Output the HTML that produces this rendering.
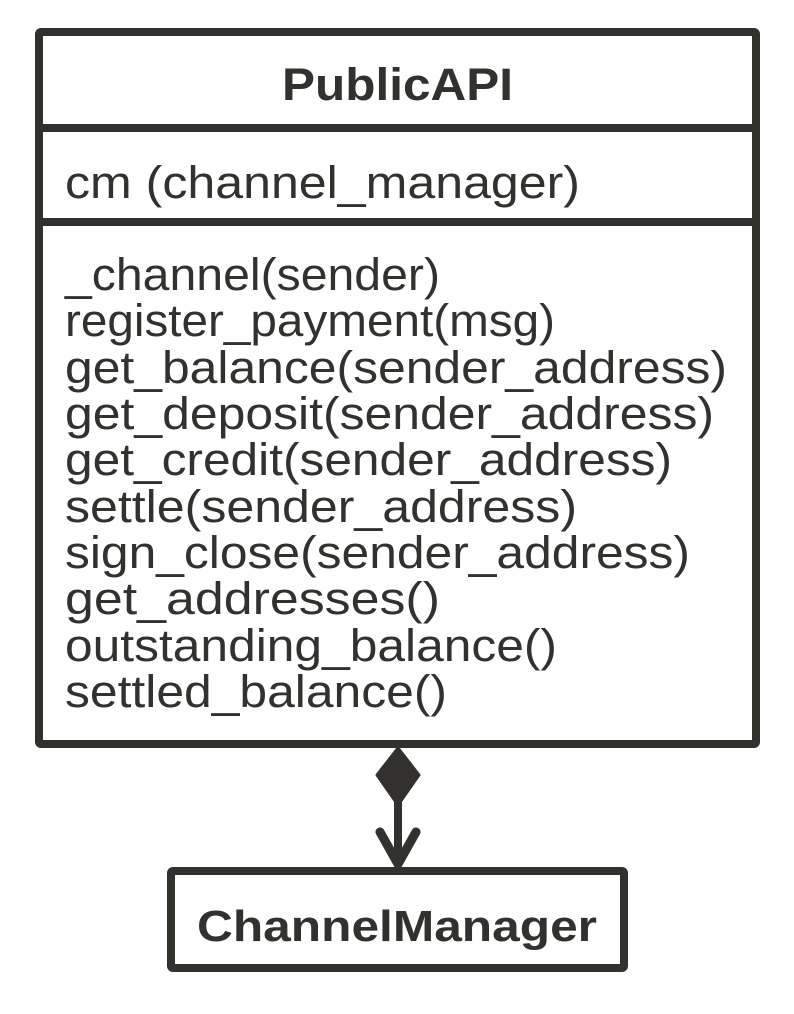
<!DOCTYPE html>
<html><head><meta charset="utf-8"><style>html,body{margin:0;padding:0;background:#fff}svg{display:block}</style></head>
<body>
<svg width="794" height="1014" viewBox="0 0 794 1014" xmlns="http://www.w3.org/2000/svg" font-family="Liberation Sans, Arial, sans-serif" fill="#33312e">
<rect x="0" y="0" width="794" height="1014" fill="#fff"/>
<rect x="39" y="32" width="717" height="712" fill="#fff" stroke="#33312e" stroke-width="8" rx="2"/>
<line x1="39" y1="128" x2="756" y2="128" stroke="#33312e" stroke-width="8"/>
<line x1="39" y1="222" x2="756" y2="222" stroke="#33312e" stroke-width="8"/>
<text x="282" y="100" font-size="45" font-weight="bold" textLength="231" lengthAdjust="spacingAndGlyphs">PublicAPI</text>
<text x="65" y="198" font-size="45" textLength="515" lengthAdjust="spacingAndGlyphs">cm (channel_manager)</text>
<g font-size="45">
<text x="65" y="290" textLength="375" lengthAdjust="spacingAndGlyphs">_channel(sender)</text>
<text x="65" y="336" textLength="490" lengthAdjust="spacingAndGlyphs">register_payment(msg)</text>
<text x="65" y="383" textLength="662" lengthAdjust="spacingAndGlyphs">get_balance(sender_address)</text>
<text x="65" y="429" textLength="649" lengthAdjust="spacingAndGlyphs">get_deposit(sender_address)</text>
<text x="65" y="475" textLength="607" lengthAdjust="spacingAndGlyphs">get_credit(sender_address)</text>
<text x="65" y="522" textLength="512" lengthAdjust="spacingAndGlyphs">settle(sender_address)</text>
<text x="65" y="568" textLength="625" lengthAdjust="spacingAndGlyphs">sign_close(sender_address)</text>
<text x="65" y="614" textLength="375" lengthAdjust="spacingAndGlyphs">get_addresses()</text>
<text x="65" y="661" textLength="492" lengthAdjust="spacingAndGlyphs">outstanding_balance()</text>
<text x="65" y="707" textLength="382" lengthAdjust="spacingAndGlyphs">settled_balance()</text>
</g>
<polygon points="398,748 419,775 398,805 377,775" fill="#33312e" stroke="#33312e" stroke-width="3" stroke-linejoin="round"/>
<line x1="398" y1="800" x2="398" y2="862" stroke="#33312e" stroke-width="8"/>
<polyline points="380,832 398,864 416,832" fill="none" stroke="#33312e" stroke-width="9" stroke-linecap="round" stroke-linejoin="round"/>
<rect x="171" y="871" width="453" height="97" fill="#fff" stroke="#33312e" stroke-width="8" rx="2"/>
<text x="197" y="941" font-size="44" font-weight="bold" textLength="400" lengthAdjust="spacingAndGlyphs">ChannelManager</text>
</svg>
</body></html>
